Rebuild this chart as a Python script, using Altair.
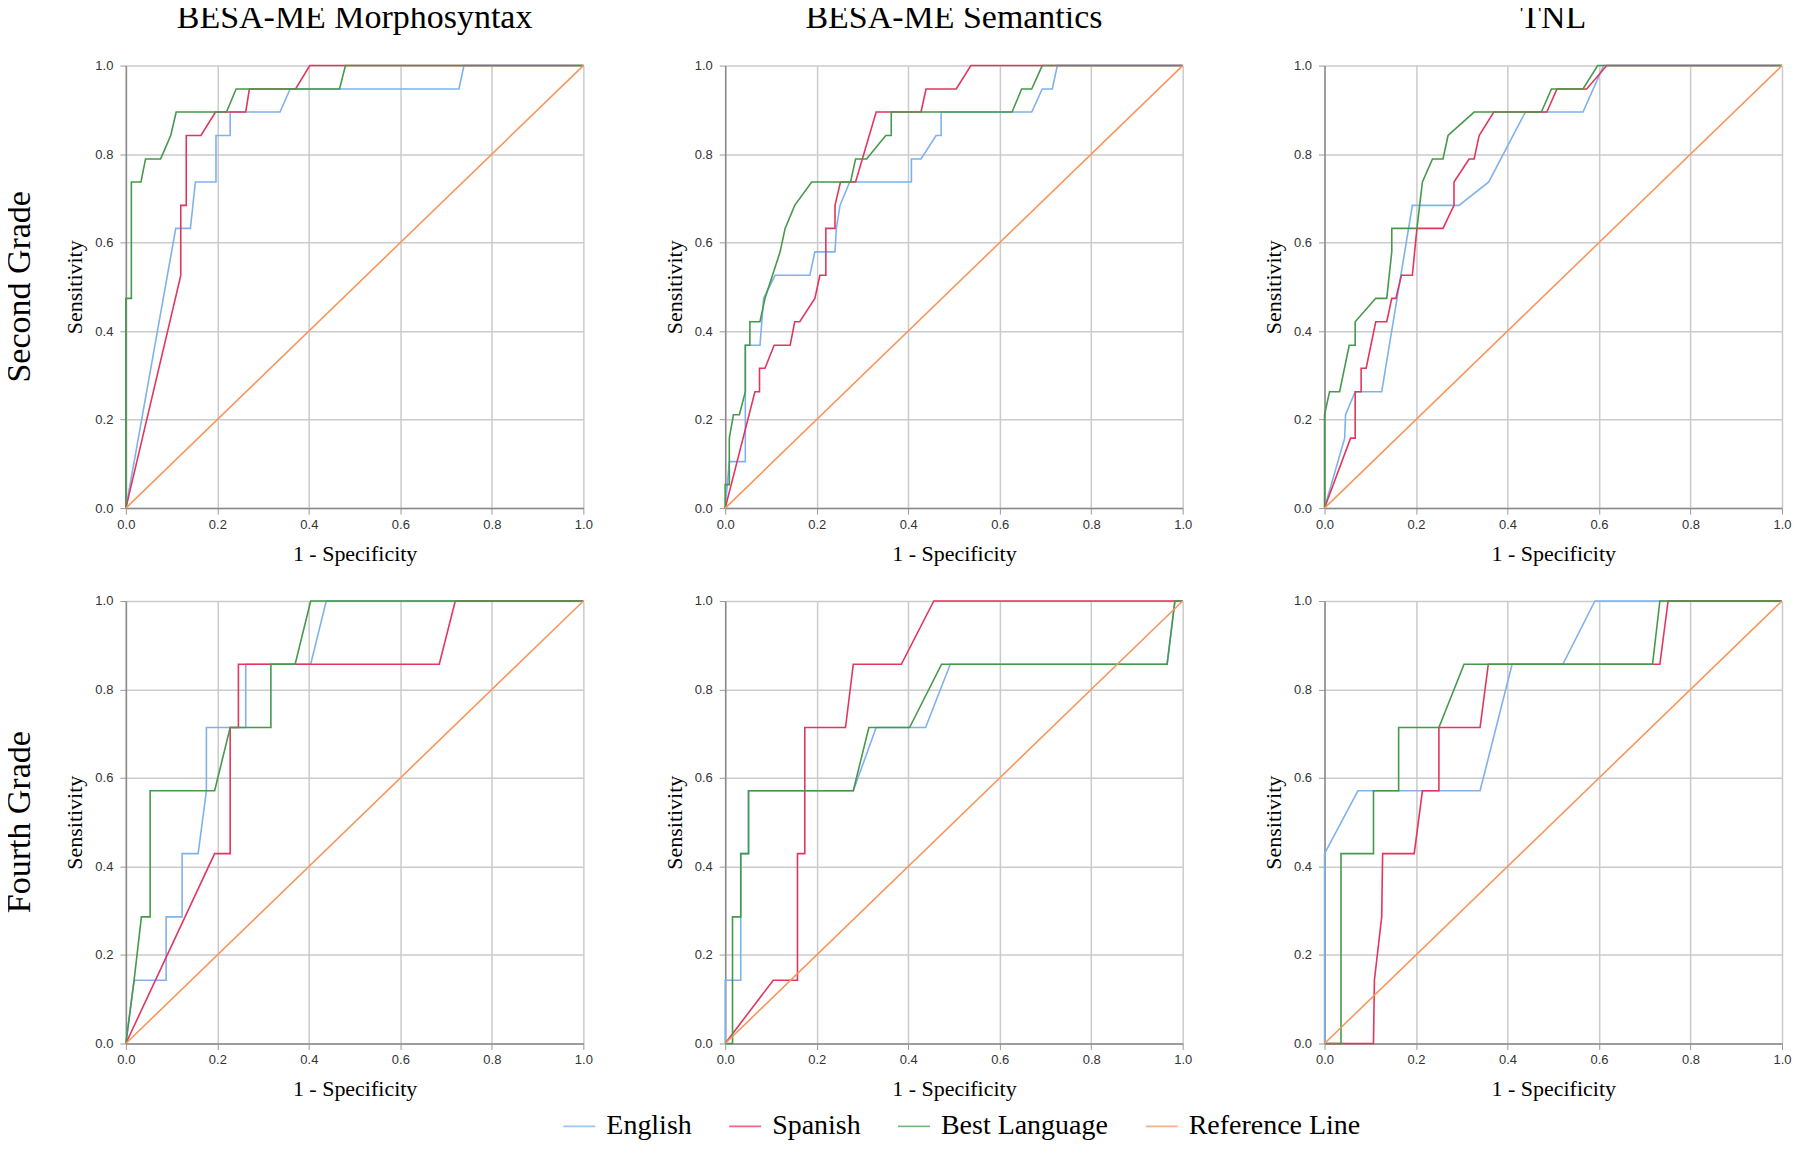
import altair as alt
import pandas as pd

MEASURES = ["BESA-ME Morphosyntax", "BESA-ME Semantics", "TNL"]
GRADES = ["Second Grade", "Fourth Grade"]
SERIES = ["English", "Spanish", "Best Language", "Reference Line"]
COLORS = ["#7FB2EC", "#E3365C", "#46994A", "#F7975E"]
TICKS = [0.0, 0.2, 0.4, 0.6, 0.8, 1.0]
REFERENCE = [(0, 0), (1, 1)]

# ---- Second Grade ----
MORPH2_ENGLISH = [(0, 0), (0.109, 0.632), (0.141, 0.632), (0.152, 0.737), (0.197, 0.737),
                  (0.197, 0.842), (0.228, 0.842), (0.228, 0.895), (0.337, 0.895), (0.359, 0.947),
                  (0.728, 0.947), (0.739, 1.0), (1, 1)]
MORPH2_SPANISH = [(0, 0), (0.120, 0.526), (0.120, 0.684), (0.132, 0.684), (0.132, 0.842),
                  (0.164, 0.842), (0.196, 0.895), (0.262, 0.895), (0.270, 0.947), (0.371, 0.947),
                  (0.402, 1.0), (1, 1)]
MORPH2_BEST = [(0, 0), (0, 0.474), (0.012, 0.474), (0.012, 0.737), (0.033, 0.737), (0.043, 0.789),
               (0.076, 0.789), (0.098, 0.842), (0.110, 0.895), (0.220, 0.895), (0.241, 0.947),
               (0.467, 0.947), (0.480, 1.0), (1, 1)]

SEM2_ENGLISH = [(0, 0), (0.009, 0.105), (0.044, 0.105), (0.044, 0.263), (0.044, 0.368),
                (0.076, 0.368), (0.084, 0.474), (0.109, 0.526), (0.185, 0.526), (0.196, 0.579),
                (0.240, 0.579), (0.243, 0.632), (0.251, 0.684), (0.272, 0.737), (0.407, 0.737),
                (0.407, 0.789), (0.428, 0.789), (0.461, 0.842), (0.472, 0.842), (0.472, 0.895),
                (0.670, 0.895), (0.693, 0.947), (0.715, 0.947), (0.726, 1.0), (1, 1)]
SEM2_SPANISH = [(0, 0), (0.065, 0.263), (0.075, 0.263), (0.075, 0.316), (0.087, 0.316),
                (0.107, 0.368), (0.142, 0.368), (0.152, 0.421), (0.163, 0.421), (0.196, 0.474),
                (0.207, 0.526), (0.220, 0.526), (0.220, 0.632), (0.240, 0.632), (0.240, 0.684),
                (0.252, 0.737), (0.285, 0.737), (0.330, 0.895), (0.428, 0.895), (0.439, 0.947),
                (0.505, 0.947), (0.537, 1.0), (1, 1)]
SEM2_BEST = [(0, 0), (0, 0.053), (0.009, 0.053), (0.009, 0.158), (0.018, 0.211), (0.031, 0.211),
             (0.044, 0.263), (0.044, 0.368), (0.054, 0.368), (0.054, 0.421), (0.076, 0.421),
             (0.087, 0.474), (0.120, 0.579), (0.131, 0.632), (0.152, 0.684), (0.189, 0.737),
             (0.274, 0.737), (0.285, 0.789), (0.309, 0.789), (0.351, 0.842), (0.363, 0.842),
             (0.363, 0.895), (0.627, 0.895), (0.648, 0.947), (0.670, 0.947), (0.693, 1.0), (1, 1)]

TNL2_ENGLISH = [(0, 0), (0.044, 0.158), (0.046, 0.211), (0.067, 0.263), (0.125, 0.263),
                (0.192, 0.684), (0.294, 0.684), (0.359, 0.737), (0.439, 0.895), (0.565, 0.895),
                (0.610, 1.0), (1, 1)]
TNL2_SPANISH = [(0, 0), (0.057, 0.158), (0.067, 0.158), (0.067, 0.263), (0.080, 0.263),
                (0.080, 0.316), (0.091, 0.316), (0.112, 0.421), (0.136, 0.421), (0.147, 0.474),
                (0.156, 0.474), (0.168, 0.526), (0.192, 0.526), (0.202, 0.632), (0.259, 0.632),
                (0.283, 0.684), (0.283, 0.737), (0.316, 0.789), (0.327, 0.789), (0.338, 0.842),
                (0.370, 0.895), (0.486, 0.895), (0.508, 0.947), (0.573, 0.947), (0.617, 1.0), (1, 1)]
TNL2_BEST = [(0, 0), (0, 0.211), (0.011, 0.263), (0.033, 0.263), (0.054, 0.368), (0.067, 0.368),
             (0.067, 0.421), (0.112, 0.474), (0.136, 0.474), (0.147, 0.579), (0.147, 0.632),
             (0.202, 0.632), (0.214, 0.737), (0.236, 0.789), (0.259, 0.789), (0.270, 0.842),
             (0.327, 0.895), (0.474, 0.895), (0.496, 0.947), (0.565, 0.947), (0.597, 1.0), (1, 1)]

# ---- Fourth Grade ----
MORPH4_ENGLISH = [(0, 0), (0.018, 0.143), (0.088, 0.143), (0.088, 0.286), (0.123, 0.286),
                  (0.123, 0.429), (0.158, 0.429), (0.176, 0.571), (0.176, 0.714), (0.262, 0.714),
                  (0.262, 0.857), (0.404, 0.857), (0.438, 1.0), (1, 1)]
MORPH4_SPANISH = [(0, 0), (0.194, 0.429), (0.228, 0.429), (0.228, 0.714), (0.246, 0.714),
                  (0.246, 0.857), (0.685, 0.857), (0.720, 1.0), (1, 1)]
MORPH4_BEST = [(0, 0), (0.018, 0.143), (0.034, 0.286), (0.053, 0.286), (0.053, 0.571),
               (0.194, 0.571), (0.228, 0.714), (0.317, 0.714), (0.317, 0.857), (0.370, 0.857),
               (0.404, 1.0), (1, 1)]

SEM4_ENGLISH = [(0, 0), (0, 0.143), (0.034, 0.143), (0.034, 0.429), (0.051, 0.429), (0.051, 0.571),
                (0.280, 0.571), (0.330, 0.714), (0.438, 0.714), (0.492, 0.857), (0.966, 0.857),
                (0.983, 1.0), (1, 1)]
SEM4_SPANISH = [(0, 0), (0.105, 0.143), (0.158, 0.143), (0.158, 0.429), (0.174, 0.429),
                (0.174, 0.714), (0.263, 0.714), (0.280, 0.857), (0.385, 0.857), (0.456, 1.0), (1, 1)]
SEM4_BEST = [(0, 0), (0.016, 0), (0.016, 0.286), (0.034, 0.286), (0.034, 0.429), (0.051, 0.429),
             (0.051, 0.571), (0.280, 0.571), (0.314, 0.714), (0.403, 0.714), (0.473, 0.857),
             (0.966, 0.857), (0.983, 1.0), (1, 1)]

TNL4_ENGLISH = [(0, 0), (0, 0.429), (0.073, 0.571), (0.340, 0.571), (0.410, 0.857), (0.521, 0.857),
                (0.591, 1.0), (1, 1)]
TNL4_SPANISH = [(0, 0), (0.107, 0), (0.109, 0.143), (0.125, 0.286), (0.127, 0.429), (0.196, 0.429),
                (0.214, 0.571), (0.250, 0.571), (0.250, 0.714), (0.340, 0.714), (0.358, 0.857),
                (0.733, 0.857), (0.751, 1.0), (1, 1)]
TNL4_BEST = [(0, 0), (0.036, 0), (0.036, 0.429), (0.107, 0.429), (0.107, 0.571), (0.162, 0.571),
             (0.162, 0.714), (0.250, 0.714), (0.305, 0.857), (0.717, 0.857), (0.733, 1.0), (1, 1)]

PANELS = [
    ("Second Grade", "BESA-ME Morphosyntax", [MORPH2_ENGLISH, MORPH2_SPANISH, MORPH2_BEST, REFERENCE]),
    ("Second Grade", "BESA-ME Semantics", [SEM2_ENGLISH, SEM2_SPANISH, SEM2_BEST, REFERENCE]),
    ("Second Grade", "TNL", [TNL2_ENGLISH, TNL2_SPANISH, TNL2_BEST, REFERENCE]),
    ("Fourth Grade", "BESA-ME Morphosyntax", [MORPH4_ENGLISH, MORPH4_SPANISH, MORPH4_BEST, REFERENCE]),
    ("Fourth Grade", "BESA-ME Semantics", [SEM4_ENGLISH, SEM4_SPANISH, SEM4_BEST, REFERENCE]),
    ("Fourth Grade", "TNL", [TNL4_ENGLISH, TNL4_SPANISH, TNL4_BEST, REFERENCE]),
]

rows = []
for grade, measure, curves in PANELS:
    for k, (name, pts) in enumerate(zip(SERIES, curves)):
        for i, (x, y) in enumerate(pts):
            rows.append({"grade": grade, "measure": measure, "series": name,
                         "sk": k, "i": i, "x": x, "y": y})
df = pd.DataFrame(rows)

FONT_SERIF = "Liberation Serif"
FONT_SANS = "Liberation Sans"

base = alt.Chart(df).mark_line(interpolate="linear").encode(
    x=alt.X("x:Q", scale=alt.Scale(domain=[0, 1], nice=False),
            axis=alt.Axis(values=TICKS, format=".1f", title="1 - Specificity")),
    y=alt.Y("y:Q", scale=alt.Scale(domain=[0, 1], nice=False),
            axis=alt.Axis(values=TICKS, format=".1f", title="Sensitivity")),
    color=alt.Color("series:N", scale=alt.Scale(domain=SERIES, range=COLORS),
                    legend=alt.Legend(title=None, orient="none", direction="horizontal",
                                      legendX=437, legendY=1045, padding=0,
                                      symbolType="stroke", symbolSize=1024,
                                      symbolStrokeWidth=2, symbolOpacity=0.75,
                                      labelFont=FONT_SERIF, labelFontSize=28,
                                      labelColor="#000000", labelOffset=10,
                                      labelLimit=400, columnPadding=33)),
    strokeWidth=alt.StrokeWidth("series:N", scale=alt.Scale(domain=SERIES, range=[1.6, 1.6, 1.6, 1.3]),
                                legend=None),
    order=alt.Order("i:Q"),
).properties(width=458, height=443)

chart = base.facet(
    row=alt.Row("grade:N", sort=GRADES, title=None,
                header=alt.Header(labelFont=FONT_SERIF, labelFontSize=34, labelColor="#000000",
                                  labelAngle=-90, labelOrient="left", labelPadding=72)),
    column=alt.Column("measure:N", sort=MEASURES, title=None,
                      header=alt.Header(labelFont=FONT_SERIF, labelFontSize=34, labelColor="#000000",
                                        labelOrient="top", labelPadding=31)),
    spacing={"row": 93, "column": 142},
    bounds="flush",
).resolve_axis(
    x="independent", y="independent"
).properties(
    padding={"left": -6, "top": -8, "right": 0, "bottom": 0}
).configure_view(
    stroke=None
).configure_axis(
    labelFont=FONT_SANS, labelFontSize=13, labelColor="#333333", labelFlush=False,
    tickColor="#999999", tickSize=6, tickWidth=1,
    domainColor="#8a8a8a", domainWidth=1.5,
    gridColor="#cbcbcb", gridWidth=1.5,
    titleFont=FONT_SERIF, titleFontSize=22, titleFontWeight="normal", titleColor="#000000",
).configure_axisX(
    labelPadding=4, titlePadding=12
).configure_axisY(
    labelPadding=7, titlePadding=8
)

chart.save("out.html", embed_options={"renderer": "svg", "actions": False})
